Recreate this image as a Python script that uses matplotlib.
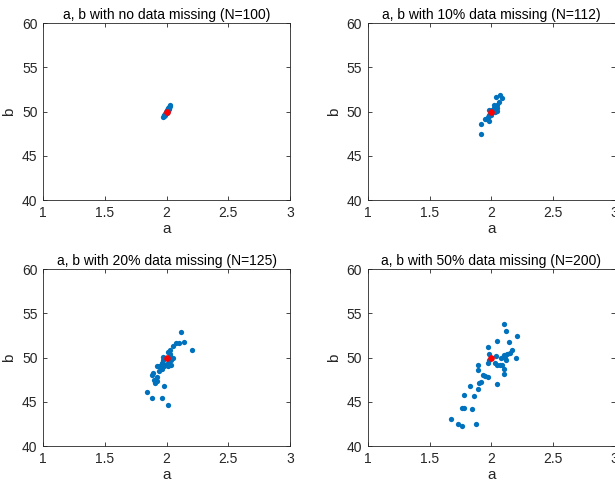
import matplotlib.pyplot as plt

plt.rcParams['font.family'] = ['Liberation Sans', 'DejaVu Sans']

titles = ['a, b with no data missing (N=100)',
          'a, b with 10% data missing (N=112)',
          'a, b with 20% data missing (N=125)',
          'a, b with 50% data missing (N=200)']

a0 = [1.973, 1.978, 1.982, 1.985, 1.988, 1.99, 1.993, 1.995, 1.998, 2.0,
      2.003, 2.006, 2.008, 2.01, 2.013, 2.016, 2.02, 2.023, 2.026, 2.03,
      1.98, 1.99, 2.0, 2.01, 2.02, 2.015, 1.995, 2.005]
b0 = [49.43, 49.5, 49.58, 49.65, 49.7, 49.75, 49.82, 49.88, 49.95, 50.0,
      50.05, 50.12, 50.18, 50.22, 50.3, 50.38, 50.45, 50.52, 50.6, 50.7,
      49.45, 49.6, 49.8, 50.05, 50.3, 50.45, 50.0, 50.15]

a10 = [1.92, 1.92, 1.95, 1.96, 1.98, 1.98, 1.997, 2.01, 2.03, 2.05,
       2.05, 2.04, 2.07, 2.09, 2.06, 2.02, 1.98, 2.01, 1.98, 2.03,
       2.05, 1.97, 2.0, 2.04, 2.02, 1.99]
b10 = [47.45, 48.6, 49.2, 49.2, 48.94, 49.66, 49.85, 50.0, 50.15, 50.4,
       50.76, 51.7, 51.9, 51.5, 51.1, 50.7, 50.23, 50.23, 49.5, 49.9,
       50.1, 49.4, 49.6, 50.5, 50.4, 49.7]

a20 = [2.12, 2.14, 2.10, 2.08, 2.05, 2.21, 2.03, 2.01, 2.03, 1.97,
       2.05, 2.04, 1.97, 1.96, 1.92, 1.94, 1.98, 2.01, 2.04, 1.96,
       1.94, 1.89, 1.88, 1.92, 1.90, 1.91, 1.92, 1.98, 1.84, 1.88,
       1.96, 2.01, 2.0, 2.02, 1.99, 2.03, 1.98, 2.02, 2.0, 1.97]
b20 = [52.93, 51.76, 51.6, 51.6, 51.3, 50.8, 50.85, 50.6, 50.4, 50.1,
       50.0, 49.7, 49.7, 49.4, 49.0, 49.0, 49.0, 49.0, 49.15, 48.7,
       48.45, 48.2, 48.05, 47.8, 47.45, 47.07, 47.3, 46.77, 46.05, 45.48,
       45.4, 44.65, 49.3, 49.6, 49.9, 50.2, 49.2, 49.5, 49.1, 49.3]

a50 = [2.10, 2.12, 2.21, 2.05, 2.14, 1.97, 2.17, 2.15, 2.13, 2.10,
       2.04, 1.98, 2.20, 2.08, 2.11, 2.12, 2.03, 2.05, 2.07, 2.09,
       1.97, 1.98, 1.89, 1.89, 2.10, 2.10, 1.93, 1.95, 1.97, 1.92,
       1.90, 2.05, 1.83, 1.89, 1.86, 1.78, 1.76, 1.78, 1.84, 1.67,
       1.73, 1.76, 1.88]
b50 = [53.76, 53.0, 52.48, 51.9, 51.7, 51.2, 50.9, 50.5, 50.4, 50.3,
       50.2, 50.4, 49.98, 50.0, 49.9, 49.7, 49.4, 49.2, 49.2, 49.2,
       49.4, 49.7, 49.1, 48.6, 48.7, 48.1, 48.0, 47.9, 47.8, 47.2,
       47.1, 47.0, 46.8, 46.4, 45.6, 45.8, 44.3, 44.3, 44.2, 43.1,
       42.5, 42.3, 42.5]

true_a = 2
true_b = 50

xs = [a0, a10, a20, a50]
ys = [b0, b10, b20, b50]

fig = plt.figure(figsize=(6.15, 4.88), dpi=100)
lefts = [0.070, 0.598, 0.070, 0.598]
bottoms = [0.590, 0.590, 0.086, 0.086]

edge = '#262626'
for i in range(4):
    ax = fig.add_axes([lefts[i], bottoms[i], 0.4016, 0.3627])
    ax.plot(xs[i], ys[i], 'o', color='#0072BD', markersize=3.8, markeredgewidth=0)
    ax.plot(true_a, true_b, 'o', color='#FF0000', markersize=4.8, markeredgewidth=0)
    ax.set_xlim(1, 3)
    ax.set_ylim(40, 60)
    ax.set_xticks([1, 1.5, 2, 2.5, 3])
    ax.set_xticklabels(['1', '1.5', '2', '2.5', '3'])
    ax.set_yticks([40, 45, 50, 55, 60])
    ax.tick_params(direction='in', top=True, right=True, length=3,
                   width=0.6, colors=edge, labelsize=10, pad=4)
    for s in ax.spines.values():
        s.set_color(edge)
        s.set_linewidth(0.6)
    ax.set_xlabel('a', fontsize=11, color=edge, labelpad=2)
    ax.set_ylabel('b', fontsize=11, color=edge, labelpad=4)
    ax.set_title(titles[i], fontsize=10, color='#000000', pad=3)

fig.savefig('out.png', dpi=100)
